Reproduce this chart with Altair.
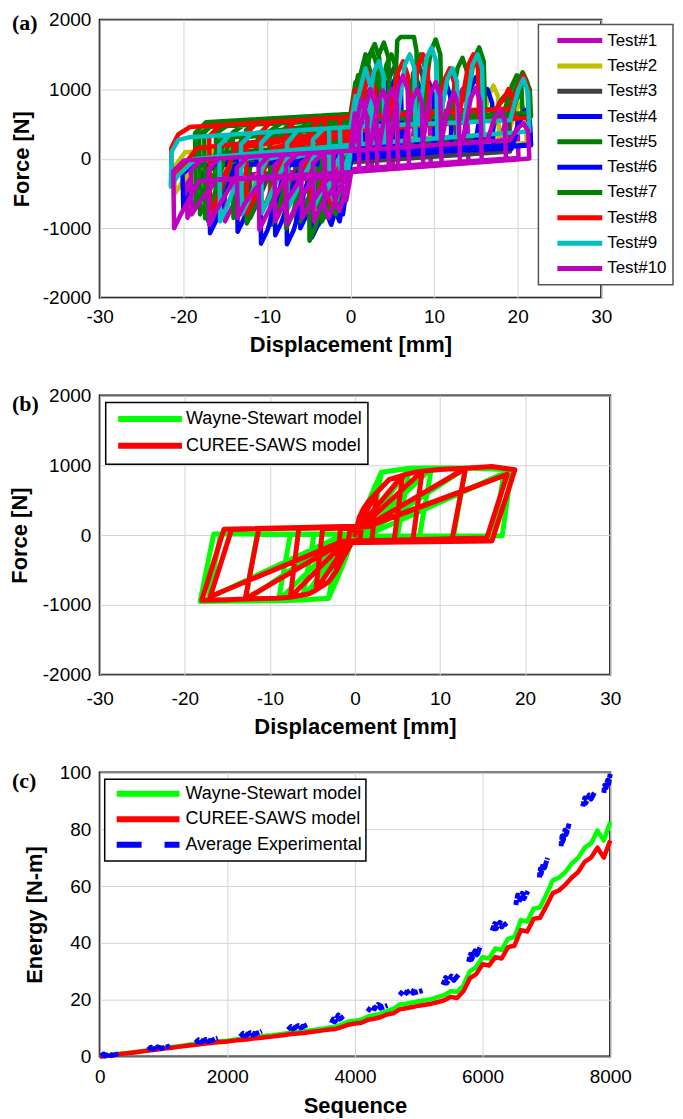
import altair as alt
import pandas as pd

# ---------------- Panel (a): experimental hysteresis loops ----------------
TESTS = ["Test#1", "Test#2", "Test#3", "Test#4", "Test#5",
         "Test#6", "Test#7", "Test#8", "Test#9", "Test#10"]
TEST_COLORS = ["#bf00bf", "#bfbf00", "#404040", "#0000ff", "#008000",
               "#0000ff", "#008000", "#ff0000", "#00bfbf", "#bf00bf"]

T1 = [(0,150),(1.8,900),(2.5,700),(2.55,-130),(0.1,-150),(-1.8,-800),(-2.5,-600),(-2.55,132),
      (0,150),(2.8,167),(3.8,900),(4.4,1050),(4.95,850),(5.1,-109),(0.2,-150),(-3.5,-250),(-5.7,-700),(-6.5,-900),(-6.6,-96),(-5.3,113),
      (0,150),(7.3,194),(8.3,950),(8.9,1100),(9.45,900),(9.6,-73),(0.2,-150),(-6.5,-250),(-8.7,-750),(-9.5,-950),(-9.6,-117),(-8.3,92),
      (0,150),(11.8,221),(12.8,850),(13.4,1000),(13.95,800),(14.1,-37),(0.2,-150),(-12.0,-250),(-14.2,-700),(-15.0,-900),(-15.1,-106),(-13.8,53),
      (0,150),(17.8,257),(18.8,600),(19.4,700),(19.95,550),(20.1,10),(0.2,-150),(-16.5,-250),(-18.7,-650),(-19.5,-850),(-19.6,-137),(-18.3,22),(0,150)]
T2 = [(0,250),(3.3,267),(4.3,750),(4.9,900),(5.45,750),(5.6,134),(0.2,100),(-1.0,0),(-3.2,-500),(-4.0,-700),(-4.1,67),(-2.8,228),
      (0,250),(7.8,289),(8.8,850),(9.4,1000),(9.95,850),(10.1,161),(0.2,100),(-10.1,0),(-12.3,-500),(-13.1,-690),(-13.2,-56),(-11.9,155),
      (0,250),(15.5,328),(16.5,900),(17.1,1050),(17.65,900),(17.8,207),(0.2,100),(-14.6,0),(-16.8,-450),(-17.6,-600),(-17.7,-92),(-16.4,119),
      (0,250),(18.8,344),(19.8,700),(20.4,800),(20.95,650),(21.1,227),(0.2,100),(-18.0,0),(-20.2,-350),(-21.0,-500),(-21.1,-119),(-19.8,92),(0,250)]
T3 = [(0,200),(2.3,1000),(3.0,800),(3.05,-26),(0.1,-50),(-2.3,-700),(-3.0,-500),(-3.05,176),
      (0,200),(3.7,219),(4.7,1180),(5.3,1330),(5.85,1130),(6.0,-2),(0.2,-50),(-3.0,0),(-5.2,-650),(-6.0,-850),(-6.1,-49),(-4.8,162),
      (0,200),(6.5,233),(7.5,1230),(8.1,1380),(8.65,1180),(8.8,20),(0.2,-50),(-6.0,0),(-8.2,-700),(-9.0,-900),(-9.1,-73),(-7.8,138),
      (0,200),(10.4,252),(11.4,1100),(12.0,1250),(12.55,1050),(12.7,52),(0.2,-50),(-9.0,0),(-11.2,-650),(-12.0,-850),(-12.1,-97),(-10.8,114),
      (0,200),(16.8,284),(17.8,800),(18.4,900),(18.95,750),(19.1,103),(0.2,-50),(-14.0,0),(-16.2,-600),(-17.0,-800),(-17.1,-137),(-15.8,74),(0,200)]
T4 = [(0,50),(1.8,900),(2.5,700),(2.55,23),(0.1,0),(-1.3,-900),(-2.0,-700),(-2.05,34),
      (0,50),(2.8,64),(3.8,950),(4.4,1100),(4.95,900),(5.1,46),(0.2,0),(-3.0,-100),(-5.2,-800),(-6.0,-1000),(-6.1,-99),(-4.8,12),
      (0,50),(6.3,82),(7.3,1000),(7.9,1150),(8.45,950),(8.6,77),(0.2,0),(-6.0,-100),(-8.2,-900),(-9.0,-1100),(-9.1,-123),(-7.8,-12),
      (0,50),(9.8,99),(10.8,950),(11.4,1100),(11.95,900),(12.1,109),(0.2,0),(-10.5,-100),(-12.7,-850),(-13.5,-1050),(-13.6,-159),(-12.3,-48),
      (0,50),(14.8,124),(15.8,850),(16.4,1000),(16.95,800),(17.1,154),(0.2,0),(-14.0,-100),(-16.2,-700),(-17.0,-900),(-17.1,-187),(-15.8,-76),
      (0,50),(19.3,147),(20.3,550),(20.9,650),(21.45,500),(21.6,194),(0.2,0),(-17.0,-100),(-19.2,-500),(-20.0,-700),(-20.1,-211),(-18.8,-100),(0,50)]
T5 = [(0,560),(0.9,1200),(1.5,950),(1.55,508),(0.1,500),(-0.9,-700),(-1.5,-500),(-1.55,551),
      (0,560),(1.0,564),(2.0,1400),(2.6,1550),(3.15,1350),(3.3,517),(0.2,500),(-0.8,300),(-3.0,-750),(-3.8,-950),(-3.9,437),(-2.6,544),
      (0,560),(3.3,573),(4.3,1350),(4.9,1500),(5.45,1300),(5.6,528),(0.2,500),(-3.0,300),(-5.2,-700),(-6.0,-900),(-6.1,424),(-4.8,531),
      (0,560),(6.8,587),(7.8,1350),(8.4,1500),(8.95,1300),(9.1,546),(0.2,500),(-6.5,300),(-8.7,-750),(-9.5,-950),(-9.6,402),(-8.3,510),
      (0,560),(11.8,607),(12.8,1300),(13.4,1450),(13.95,1250),(14.1,571),(0.2,500),(-11.0,300),(-13.2,-650),(-14.0,-850),(-14.1,375),(-12.8,483),
      (0,560),(18.3,633),(19.3,1050),(19.9,1200),(20.45,1050),(20.6,603),(0.2,500),(-15.0,300),(-17.2,-600),(-18.0,-800),(-18.1,351),(-16.8,459),
      (0,560),(19.3,637),(20.3,1000),(20.9,1150),(21.45,1000),(21.6,608),(0.2,500),(-13.0,300),(-15.2,-550),(-16.0,-750),(-16.1,363),(-14.8,471),(0,560)]
T6 = [(0,100),(0.9,800),(1.5,600),(1.55,42),(0.1,30),(-0.9,-800),(-1.5,-600),(-1.55,88),
      (0,100),(1.3,107),(2.3,850),(2.9,1000),(3.45,800),(3.6,59),(0.2,30),(-2.3,-950),(-3.0,-750),(-3.05,76),
      (0,100),(3.9,120),(4.9,1040),(5.5,1190),(6.05,990),(6.2,80),(0.2,30),(-1.6,-100),(-3.8,-930),(-4.6,-1130),(-4.7,-38),(-3.4,73),
      (0,100),(7.8,139),(8.8,950),(9.4,1100),(9.95,900),(10.1,111),(0.2,30),(-4.6,-100),(-6.8,-1030),(-7.6,-1230),(-7.7,-62),(-6.4,49),
      (0,100),(13.4,167),(14.4,1020),(15.0,1170),(15.55,970),(15.7,156),(0.2,30),(-7.7,-100),(-9.9,-1020),(-10.7,-1220),(-10.8,-86),(-9.5,24),
      (0,100),(19.3,197),(20.3,600),(20.9,700),(21.45,550),(21.6,203),(0.2,30),(-13.8,-100),(-16.0,-870),(-16.8,-1070),(-16.9,-135),(-15.6,-25),(0,100)]
T7 = [(0,643),(0.6,1100),(1.2,900),(1.25,556),(0.1,550),(-0.6,-600),(-1.2,-400),(-1.25,635),
      (0,643),(1.8,1500),(2.5,1200),(2.55,563),(0.1,550),(-1.8,-800),(-2.5,-600),(-2.55,626),
      (0,643),(1.3,648),(2.3,1500),(2.9,1650),(3.45,1450),(3.6,568),(0.2,550),(-0.6,400),(-2.6,-700),(-3.4,-900),(-3.45,620),
      (0,643),(2.4,653),(3.4,1500),(4.0,1670),(4.55,1450),(4.7,574),(0.2,550),(-1.9,300),(-4.1,-950),(-4.9,-1180),(-5.0,459),(-3.7,618),
      (0,643),(5.2,664),(5.6,1700),(6.0,1750),(7.6,1750),(7.9,1550),(8.0,590),(0.2,550),(-4.7,300),(-6.9,-800),(-7.7,-1000),(-7.8,440),(-6.5,599),
      (0,643),(8.6,677),(9.6,1550),(10.2,1714),(10.75,1500),(10.9,605),(0.2,550),(-9.4,300),(-11.6,-730),(-12.4,-930),(-12.5,408),(-11.2,567),
      (0,643),(13.8,698),(14.8,1450),(15.4,1600),(15.95,1400),(16.1,630),(0.2,550),(-14.4,300),(-16.6,-650),(-17.4,-857),(-17.5,374),(-16.2,533),
      (0,643),(19.0,719),(20.0,1100),(20.6,1243),(21.15,1100),(21.3,656),(0.2,550),(-15.5,300),(-17.7,-500),(-18.5,-700),(-18.6,367),(-17.3,525),(0,643)]
T8 = [(0,600),(0.6,1000),(1.2,800),(1.25,411),(0.1,400),(-0.6,-500),(-1.2,-300),(-1.25,591),
      (0,600),(1.0,606),(2.2,1250),(2.95,1000),(3.1,427),(0.1,400),(-1.0,200),(-2.3,-650),(-3.0,-450),(-3.05,577),
      (0,600),(4.7,628),(5.7,1250),(6.3,1400),(6.85,1200),(7.0,463),(0.2,400),(-1.7,150),(-3.9,-500),(-4.7,-700),(-4.8,414),(-3.5,574),
      (0,600),(7.1,643),(8.1,1350),(8.7,1500),(9.25,1300),(9.4,485),(0.2,400),(-4.7,150),(-6.9,-550),(-7.7,-750),(-7.8,392),(-6.5,551),
      (0,600),(10.3,662),(11.3,1150),(11.9,1300),(12.45,1100),(12.6,513),(0.2,400),(-7.7,150),(-9.9,-580),(-10.7,-780),(-10.8,369),(-9.5,529),
      (0,600),(13.1,679),(14.1,1350),(14.7,1500),(15.25,1300),(15.4,539),(0.2,400),(-9.4,150),(-11.6,-590),(-12.4,-790),(-12.5,357),(-11.2,516),
      (0,600),(19.1,715),(20.1,1050),(20.7,1200),(21.25,1000),(21.4,593),(0.2,400),(-13.8,150),(-16.0,-600),(-16.8,-800),(-16.9,324),(-15.6,483),
      (0,600),(17.3,704),(18.3,850),(18.9,1000),(19.45,850),(19.6,576),(0.2,400),(-18.4,150),(-20.6,-200),(-21.4,-300),(-21.45,150),(-20.6,350),(-19.2,456),(0,600)]
T9 = [(0,457),(0.6,900),(1.2,700),(1.25,211),(0.1,200),(-0.6,-500),(-1.2,-300),(-1.25,447),
      (0,457),(1.8,1300),(2.5,1000),(2.6,223),(0.1,200),(-1.8,-650),(-2.5,-450),(-2.55,437),
      (0,457),(1.8,466),(2.8,1250),(3.4,1400),(3.95,1200),(4.1,236),(0.2,200),(-1.4,0),(-3.6,-500),(-4.4,-700),(-4.5,272),(-3.2,432),
      (0,457),(5.5,485),(6.5,1350),(7.1,1500),(7.65,1300),(7.8,269),(0.2,200),(-4.5,0),(-6.7,-520),(-7.5,-720),(-7.6,222),(-6.3,408),
      (0,457),(8.1,498),(9.1,1450),(9.7,1600),(10.25,1400),(10.4,294),(0.2,200),(-7.6,0),(-9.8,-580),(-10.6,-780),(-10.7,225),(-9.4,385),
      (0,457),(10.6,510),(11.6,1150),(12.2,1300),(12.75,1100),(12.9,316),(0.2,200),(-10.0,0),(-12.2,-600),(-13.0,-800),(-13.1,206),(-11.8,366),
      (0,457),(13.6,525),(14.6,1350),(15.2,1500),(15.75,1300),(15.9,343),(0.2,200),(-12.6,0),(-14.8,-700),(-15.6,-900),(-15.7,186),(-14.4,346),
      (0,457),(19.1,553),(20.1,1000),(20.7,1150),(21.25,950),(21.4,393),(0.2,200),(-18.5,0),(-20.7,-250),(-21.5,-400),(-21.4,100),(-20.6,270),(-19.2,310),(0,457)]
T10 = [(0,115),(0.5,650),(1.0,450),(1.05,-181),(0.1,-190),(-0.5,-600),(-1.0,-450),(-1.05,108),
       (0,115),(1.3,850),(2.0,600),(2.05,-172),(0.1,-190),(-1.3,-750),(-2.0,-550),(-2.05,101),
       (0,115),(1.0,400),(2.4,1000),(3.1,750),(3.2,-161),(0.1,-190),(-1.2,-400),(-2.6,-850),(-3.1,-700),(-3.15,93),
       (0,115),(2.3,133),(3.3,830),(3.9,980),(4.45,780),(4.6,-150),(0.2,-190),(-1.4,-300),(-3.6,-700),(-4.4,-900),(-4.5,-65),(-3.2,93),
       (0,115),(3.4,142),(4.4,850),(5.0,1000),(5.55,800),(5.7,-139),(0.2,-190),(-2.8,-300),(-5.0,-700),(-5.8,-850),(-5.9,-75),(-4.6,83),
       (0,115),(4.7,153),(5.7,1040),(6.3,1190),(6.85,990),(7.0,-127),(0.2,-190),(-4.6,-300),(-6.8,-750),(-7.6,-950),(-7.7,-88),(-6.4,70),
       (0,115),(6.4,166),(7.4,850),(8.0,1000),(8.55,800),(8.7,-112),(0.2,-190),(-6.0,-300),(-8.2,-700),(-9.0,-900),(-9.1,-97),(-7.8,60),
       (0,115),(8.6,184),(9.6,950),(10.2,1100),(10.75,900),(10.9,-93),(0.2,-190),(-7.9,-300),(-10.1,-820),(-10.9,-1020),(-11.0,-111),(-9.7,47),
       (0,115),(10.8,201),(11.8,800),(12.4,950),(12.95,750),(13.1,-73),(0.2,-190),(-10.5,-300),(-12.7,-650),(-13.5,-850),(-13.6,-130),(-12.3,29),
       (0,115),(13.4,222),(14.4,870),(15.0,1020),(15.55,820),(15.7,-49),(0.2,-190),(-13.9,-300),(-16.1,-750),(-16.9,-950),(-17.0,-153),(-15.7,5),
       (0,115),(16.3,245),(17.3,600),(17.9,700),(18.45,560),(18.6,-23),(0.2,-190),(-16.0,-300),(-18.2,-650),(-19.0,-800),(-19.1,-170),(-17.8,-10),
       (0,115),(19.1,268),(20.1,450),(20.7,510),(21.25,400),(21.4,2),(0.2,-190),(-18.1,-320),(-20.3,-800),(-21.1,-1000),(-21.2,-180),(-19.9,-24),(0,115)]
TEST_PATHS = [T1, T2, T3, T4, T5, T6, T7, T8, T9, T10]

DISP_TICKS = [-30, -20, -10, 0, 10, 20, 30]
FORCE_TICKS = [-2000, -1000, 0, 1000, 2000]

# ---------------- Panel (b): model hysteresis loops ----------------
MODELS = ["Wayne-Stewart model", "CUREE-SAWS model"]
MODEL_COLORS = ["#00ff00", "#ff0000"]
WS_LOOP = [(0,0),(1.0,300),
           (0.6,-10),(-0.3,-20),(-1.0,-300),(-0.6,10),(0.3,20),
           (1.0,300),(2.0,600),(3.1,900),(1.8,-10),(-0.4,-20),(-1.0,-300),(-2.0,-600),(-3.1,-906),(-1.8,10),(0.4,20),
           (3.1,900),(6.4,958),(5.0,-10),(-0.6,-20),(-3.1,-906),(-6.2,-930),(-4.8,10),(0.6,20),
           (6.4,958),(9.0,960),(7.6,-10),(-0.9,-20),(-6.2,-930),(-9.0,-940),(-7.6,10),(0.9,20),
           (9.0,960),(13.0,960),(11.6,-10),(-1.3,-20),(-9.0,-940),(-12.9,-945),(-11.5,10),(1.3,20),
           (13.0,960),(18.4,935),(17.3,-10),(-1.8,-20),(-12.9,-945),(-18.2,-953),(-16.6,14),(1.8,20),
           (17.5,880),(16.3,-10),(-1.8,-20),(-17.2,-900),(-15.8,14),(1.8,20),(17.0,860)]
CS_LOOP = [(0,0),(0.5,250),(1.0,380),
           (0.6,-60),(-0.2,-90),(-0.5,-120),(-1.0,-240),(-0.6,60),(0.2,90),
           (1.0,380),(1.5,470),(2.5,604),(2.0,-85),(-0.3,-100),(-1.0,-240),(-1.5,-340),(-2.2,-520),(-1.7,90),(0.3,110),
           (2.5,604),(4.0,793),(5.6,855),(4.6,-85),(-0.5,-100),(-2.2,-520),(-3.1,-670),(-4.6,-790),(-3.8,90),(0.5,110),
           (5.6,855),(7.2,905),(7.9,915),(6.8,-80),(-0.8,-100),(-4.6,-790),(-5.4,-840),(-7.6,-890),(-6.6,95),(0.8,115),
           (7.9,915),(10.0,940),(13.0,958),(11.4,-70),(-1.2,-100),(-7.6,-890),(-9.3,-906),(-12.9,-915),(-11.3,90),(1.2,115),
           (13.0,958),(16.1,982),(18.8,935),(16.1,-85),(-1.5,-110),(-12.9,-915),(-15.0,-925),(-18.0,-935),(-15.4,85),(1.5,130),
           (17.9,870),(15.5,-40),(-1.5,-90),(-17.0,-880),(-14.5,80),(1.5,120),(17.5,850)]

# ---------------- Panel (c): cumulative energy ----------------
SERIES_C = ["Wayne-Stewart model", "CUREE-SAWS model", "Average Experimental"]
SERIES_C_COLORS = ["#00ff00", "#ff0000", "#0000ff"]
SERIES_C_DASH = [[1, 0], [1, 0], [25, 23]]
SEQ = list(range(0, 8001, 100))
WS_ENERGY = [0.0,0.3,0.6,0.9,1.2,1.4,1.7,2.0,2.4,2.7,
             3.0,3.3,3.5,3.8,4.2,4.4,4.7,5.0,5.2,5.4,
             5.6,5.9,6.2,6.4,6.7,7.0,7.3,7.5,7.8,8.1,
             8.4,8.6,8.9,9.2,9.5,9.8,10.2,10.5,11.4,12.3,
             12.6,13.0,14.0,14.6,15.0,16.0,16.8,18.3,18.6,19.0,
             19.5,19.8,20.2,21.0,21.6,23.0,22.8,25.0,30.0,31.5,
             35.0,34.5,38.0,37.5,41.5,42.0,48.0,47.5,52.0,52.5,
             57.0,62.0,63.0,65.0,68.0,70.0,73.5,75.0,79.5,76.0,
             82.5]
CS_ENERGY = [0.0,0.2,0.5,0.8,1.1,1.3,1.6,1.9,2.2,2.5,
             2.8,3.0,3.3,3.6,3.9,4.1,4.4,4.7,4.9,5.1,
             5.3,5.6,5.8,6.0,6.3,6.5,6.8,7.0,7.3,7.6,
             7.9,8.1,8.3,8.6,8.9,9.2,9.5,9.7,10.4,11.2,
             11.6,11.9,12.9,13.3,13.8,14.8,15.2,16.6,17.0,17.4,
             17.9,18.2,18.6,19.2,19.8,21.0,20.6,23.0,27.5,29.0,
             32.5,32.0,35.0,34.5,38.5,39.0,44.5,44.0,48.5,48.8,
             53.0,57.5,58.5,60.5,63.0,65.0,68.5,70.0,73.5,70.0,
             76.0]
EXP_CLUSTERS = [
    [(20,0.2),(60,0.9),(100,0.5),(80,0.2),(150,0.8),(200,0.5),(180,0.3),(300,1.0)],
    [(760,2.4),(800,3.3),(850,2.9),(830,2.5),(900,3.4),(960,3.0),(940,2.7),(1100,3.7)],
    [(1500,4.8),(1550,5.9),(1610,5.4),(1580,4.9),(1660,6.0),(1730,5.6),(1700,5.2),(1850,6.5)],
    [(2200,7.0),(2250,8.2),(2310,7.7),(2280,7.2),(2360,8.4),(2430,8.0),(2400,7.6),(2540,8.9)],
    [(2950,9.4),(3000,10.6),(3060,10.1),(3030,9.7),(3110,10.9),(3180,10.5),(3150,10.1),(3260,11.3)],
    [(3630,11.8),(3660,13.2),(3700,12.6),(3680,12.2),(3740,14.6),(3790,13.6),(3760,13.2),(3820,14.2)],
    [(4200,15.8),(4250,17.4),(4310,16.8),(4280,16.3),(4360,18.3),(4430,17.5),(4400,17.0),(4510,18.0)],
    [(4700,21.6),(4750,23.0),(4810,22.4),(4780,21.9),(4870,23.4),(4940,22.8),(4910,22.3),(5060,23.2)],
    [(5380,25.2),(5420,27.8),(5470,26.8),(5440,25.9),(5510,28.3),(5570,27.4),(5550,26.8),(5630,29.0)],
    [(5780,33.3),(5810,36.0),(5850,35.0),(5830,34.2),(5880,37.2),(5930,36.4),(5910,35.8),(5970,38.9)],
    [(6150,44.3),(6190,46.8),(6240,45.9),(6210,45.0),(6270,47.2),(6330,46.4),(6300,45.6),(6380,47.0)],
    [(6520,53.3),(6550,56.8),(6590,55.5),(6570,54.4),(6620,57.4),(6670,56.6),(6650,55.6),(6710,58.2)],
    [(6890,63.0),(6905,66.0),(6930,65.0),(6915,64.2),(6950,67.8),(6985,67.2),(6970,66.4),(7020,69.9)],
    [(7230,74.0),(7245,77.5),(7270,76.5),(7255,75.6),(7290,79.6),(7325,79.0),(7310,78.2),(7360,82.2)],
    [(7570,88.0),(7600,91.0),(7640,90.0),(7615,89.2),(7670,92.0),(7720,91.4),(7700,90.6),(7760,93.2)],
    [(7900,92.8),(7915,95.5),(7940,94.8),(7925,94.0),(7960,97.2),(7985,96.8),(7975,96.0),(8000,99.5)],
]
SEQ_TICKS = [0, 2000, 4000, 6000, 8000]
ENERGY_TICKS = [0, 20, 40, 60, 80, 100]
PANEL_LABELS = ["(a)", "(b)", "(c)"]

FONT = "Liberation Sans"


def x_axis(values, title, title_y, pad):
    return alt.Axis(values=values, title=title, titleY=title_y, titleBaseline="middle",
                    labelExpr="'' + datum.value", labelPadding=pad, labelBaseline="middle",
                    labelFlush=False, labelOverlap=False, grid=True, ticks=False, tickSize=0, domain=False)


def y_axis(values, title, title_x, h):
    return alt.Axis(values=values, title=title, titleX=title_x, titleY=h / 2, titleBaseline="middle",
                    titleAngle=270, labelExpr="'' + datum.value", labelPadding=9, labelOverlap=False,
                    grid=True, ticks=False, tickSize=0, domain=False)


def make_legend(lx, ly, pad, rowpad, path, loff, sw, fs, border):
    return alt.Legend(orient="none", legendX=lx, legendY=ly, title=None, padding=pad, rowPadding=rowpad,
                      symbolType=path, symbolSize=225, symbolStrokeWidth=sw, symbolOpacity=1,
                      labelOffset=loff, labelFont=FONT, labelFontSize=fs, labelColor="black",
                      labelLimit=400, fillColor="white", strokeColor=border)


def panel_label(text, dx, dy):
    return alt.Chart(pd.DataFrame({"label": [text]})).mark_text(
        font="Liberation Serif", fontSize=22, fontWeight="bold", align="left",
        baseline="middle", color="black").encode(x=alt.value(dx), y=alt.value(dy), text="label:N")


def path_frame(pts):
    return pd.DataFrame({"i": list(range(len(pts))), "d": [p[0] for p in pts], "f": [p[1] for p in pts]})


# ---- panel (a)
WA, HA = 503, 279
XA = alt.X("d:Q", scale=alt.Scale(domain=[-30, 30], nice=False, zero=False),
           axis=x_axis(DISP_TICKS, "Displacement [mm]", 47, 19))
YA = alt.Y("f:Q", scale=alt.Scale(domain=[-2000, 2000], nice=False, zero=False),
           axis=y_axis(FORCE_TICKS, "Force [N]", -78, HA))
layers_a = []
for color, pts in zip(TEST_COLORS, TEST_PATHS):
    layers_a.append(alt.Chart(path_frame(pts)).mark_line(
        stroke=color, strokeWidth=4.5, strokeJoin="round", strokeCap="round").encode(x=XA, y=YA, order="i:Q"))
leg_a = pd.DataFrame({"test": TESTS, "d": [-100] * len(TESTS), "f": [0] * len(TESTS)})
layers_a.append(alt.Chart(leg_a).mark_line(clip=True).encode(
    x=XA, y=YA,
    color=alt.Color("test:N", scale=alt.Scale(domain=TESTS, range=TEST_COLORS),
                    legend=make_legend(440, 5, 6, 5.4, "M-1.333,0M0.4,0H6.4", 43, 5, 17, "#555555"))))
layers_a.append(panel_label(PANEL_LABELS[0], -88, 3))
pa = alt.layer(*layers_a).properties(width=WA, height=HA)

# ---- panel (b)
WB, HB = 512, 280
XB = alt.X("d:Q", scale=alt.Scale(domain=[-30, 30], nice=False, zero=False),
           axis=x_axis(DISP_TICKS, "Displacement [mm]", 52, 24))
YB = alt.Y("f:Q", scale=alt.Scale(domain=[-2000, 2000], nice=False, zero=False),
           axis=y_axis(FORCE_TICKS, "Force [N]", -80, HB))
layers_b = []
for color, pts in zip(MODEL_COLORS, [WS_LOOP, CS_LOOP]):
    layers_b.append(alt.Chart(path_frame(pts)).mark_line(
        stroke=color, strokeWidth=5, strokeJoin="round", strokeCap="round").encode(x=XB, y=YB, order="i:Q"))
leg_b = pd.DataFrame({"m": MODELS, "d": [-100] * 2, "f": [0] * 2})
layers_b.append(alt.Chart(leg_b).mark_line(clip=True).encode(
    x=XB, y=YB,
    color=alt.Color("m:N", scale=alt.Scale(domain=MODELS, range=MODEL_COLORS),
                    legend=make_legend(6, 7, 6, 2, "M-1.4,0M-0.533,0H8.0", 53.5, 6, 18, "black"))))
layers_b.append(panel_label(PANEL_LABELS[1], -88, 9))
pb = alt.layer(*layers_b).properties(width=WB, height=HB)

# ---- panel (c)
WC, HC = 512, 285
XC = alt.X("s:Q", scale=alt.Scale(domain=[0, 8000], nice=False, zero=False),
           axis=x_axis(SEQ_TICKS, "Sequence", 49, 20))
YC = alt.Y("e:Q", scale=alt.Scale(domain=[0, 100], nice=False, zero=False),
           axis=y_axis(ENERGY_TICKS, "Energy [N-m]", -65, HC))
ws_df = pd.DataFrame({"s": SEQ, "e": WS_ENERGY})
cs_df = pd.DataFrame({"s": SEQ, "e": CS_ENERGY})
exp_rows = []
for k, cl in enumerate(EXP_CLUSTERS):
    for j, (s, e) in enumerate(cl):
        exp_rows.append({"cluster": k, "i": j, "s": s, "e": e})
exp_df = pd.DataFrame(exp_rows)
line_ws = alt.Chart(ws_df).mark_line(stroke=SERIES_C_COLORS[0], strokeWidth=4.5, strokeJoin="round").encode(x=XC, y=YC)
line_cs = alt.Chart(cs_df).mark_line(stroke=SERIES_C_COLORS[1], strokeWidth=4.5, strokeJoin="round").encode(x=XC, y=YC)
line_exp = alt.Chart(exp_df).mark_line(stroke=SERIES_C_COLORS[2], strokeWidth=5, strokeDash=[5, 1.5],
                                       strokeJoin="round").encode(x=XC, y=YC, detail="cluster:N", order="i:Q")
leg_c_obj = make_legend(5, 7, 4, 0.5, "M-1.4,0M-0.333,0H8.067", 56, 6, 18, "black")
leg_c = pd.DataFrame({"series": SERIES_C, "s": [-1000] * 3, "e": [0] * 3})
leg_c_layer = alt.Chart(leg_c).mark_line(clip=True).encode(
    x=XC, y=YC,
    color=alt.Color("series:N", scale=alt.Scale(domain=SERIES_C, range=SERIES_C_COLORS), legend=leg_c_obj),
    strokeDash=alt.StrokeDash("series:N", scale=alt.Scale(domain=SERIES_C, range=SERIES_C_DASH), legend=leg_c_obj))
pc = alt.layer(line_ws, line_cs, line_exp, leg_c_layer, panel_label(PANEL_LABELS[2], -88, 9)).properties(width=WC, height=HC)

chart = alt.vconcat(pa, pb, pc, spacing=98, bounds="flush").resolve_scale(
    x="independent", y="independent", color="independent", strokeDash="independent"
).properties(padding=0).configure_view(stroke="black", strokeWidth=2).configure_axis(
    labelFont=FONT, labelFontSize=19, labelColor="black",
    titleFont=FONT, titleFontSize=22, titleFontWeight="bold", titleColor="black",
    gridColor="#d4d4d4", gridWidth=1
).configure_legend(strokeWidth=1.5)

chart.save("out.html", embed_options={"renderer": "svg", "actions": False})
